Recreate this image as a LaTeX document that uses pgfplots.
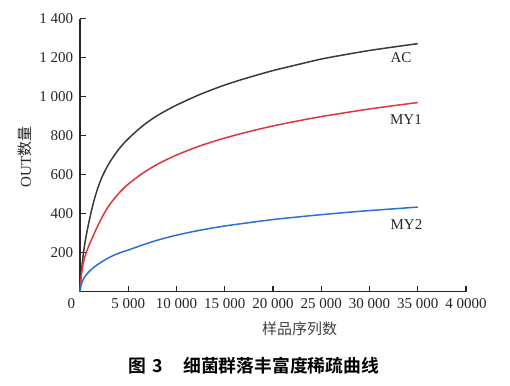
\documentclass[border=0pt]{standalone}
\usepackage{fontspec}
\setmainfont{Liberation Serif}
\newfontfamily\cjk{Noto Sans CJK SC}[BoldFont={Noto Sans CJK SC Bold}]
\usepackage{pgfplots}
\usepackage{pgfplotstable}
\pgfplotsset{compat=1.18}
\definecolor{acc}{HTML}{3A3A3A}
\definecolor{myr}{HTML}{E0353F}
\definecolor{myb}{HTML}{2E6FD4}

\pgfplotstableread{
x y
0 0
50 45
150 110
300 180
500 250
800 330
1200 420
1600 495
2200 580
3000 658
4000 730
5000 785
6500 851
8000 903
10000 957
12500 1013
15000 1060
17500 1099
20000 1134
22500 1164
25000 1193
27500 1216
30000 1237
32500 1255
35000 1272
}\dataAC

\pgfplotstableread{
x y
0 0
50 40
150 92
300 140
500 180
800 222
1100 258
1600 313
2200 375
3000 442
4000 504
5000 552
6500 608
8000 653
10000 701
12500 749
15000 788
17500 821
20000 850
22500 875
25000 898
27500 918
30000 937
32500 954
35000 970
}\dataMYa

\pgfplotstableread{
x y
0 0
50 22
150 42
300 60
500 77
800 96
1100 111
1500 128
2200 152
3200 180
4000 197
5000 214
6500 240
8000 264
10000 290
12500 316
15000 337
17500 354
20000 370
22500 383
25000 395
27500 406
30000 416
32500 425
35000 434
}\dataMYb

\begin{document}
\begin{tikzpicture}
\useasboundingbox (-40.05pt,-47.15pt) rectangle (214.95pt,145.85pt);
\begin{axis}[
  at={(0,0)}, anchor=south west,
  scale only axis, width=192.95pt, height=136.5pt,
  xmin=0, xmax=40000, ymin=0, ymax=1400,
  scaled x ticks=false, scaled y ticks=false,
  axis lines=left,
  axis line style={-, line width=0.7pt, black!85},
  xtick={0,5000,10000,15000,20000,25000,30000,35000,40000},
  xticklabels={{\llap{0\hspace{2.5pt}}},{5\ 000},{10\ 000},{15\ 000},{20\ 000},{25\ 000},{30\ 000},{35\ 000},{4\ 0000}},
  ytick={200,400,600,800,1000,1200,1400},
  yticklabels={200,400,600,800,{1\ 000},{1\ 200},{1\ 400}},
  tick align=inside, major tick length=3pt,
  tick style={line width=0.6pt, black!85},
  ticklabel style={font=\fontsize{7.5}{9}\selectfont, text=black!85},
  xlabel={\cjk 样品序列数},
  xlabel style={at={(axis description cs:0.569,-0.137)}, anchor=center, font=\fontsize{7.5}{9}\selectfont, text=black!75},
  ylabel={OUT{\cjk 数量}},
  ylabel style={at={(axis description cs:-0.106,0.493)}, anchor=south, font=\fontsize{7.5}{9}\selectfont, text=black!85},
  clip=false,
]
\addplot[color=acc, line width=0.75pt, no marks, smooth] table[x=x,y=y] {\dataAC};
\addplot[color=myr, line width=0.75pt, no marks, smooth] table[x=x,y=y] {\dataMYa};
\addplot[color=myb, line width=0.75pt, no marks, smooth] table[x=x,y=y] {\dataMYb};
\node[font=\fontsize{7.5}{9}\selectfont, text=black!85] at (axis cs:33260,1198) {AC};
\node[font=\fontsize{7.5}{9}\selectfont, text=black!85] at (axis cs:33780,882) {MY1};
\node[font=\fontsize{7.5}{9}\selectfont, text=black!85] at (axis cs:33830,347) {MY2};
\end{axis}
\node[font=\cjk\bfseries\fontsize{8.9}{10}\selectfont] at (86.95pt,-36.9pt) {图\hspace{3pt}3\hspace{10pt}细菌群落丰富度稀疏曲线};
\end{tikzpicture}
\end{document}
